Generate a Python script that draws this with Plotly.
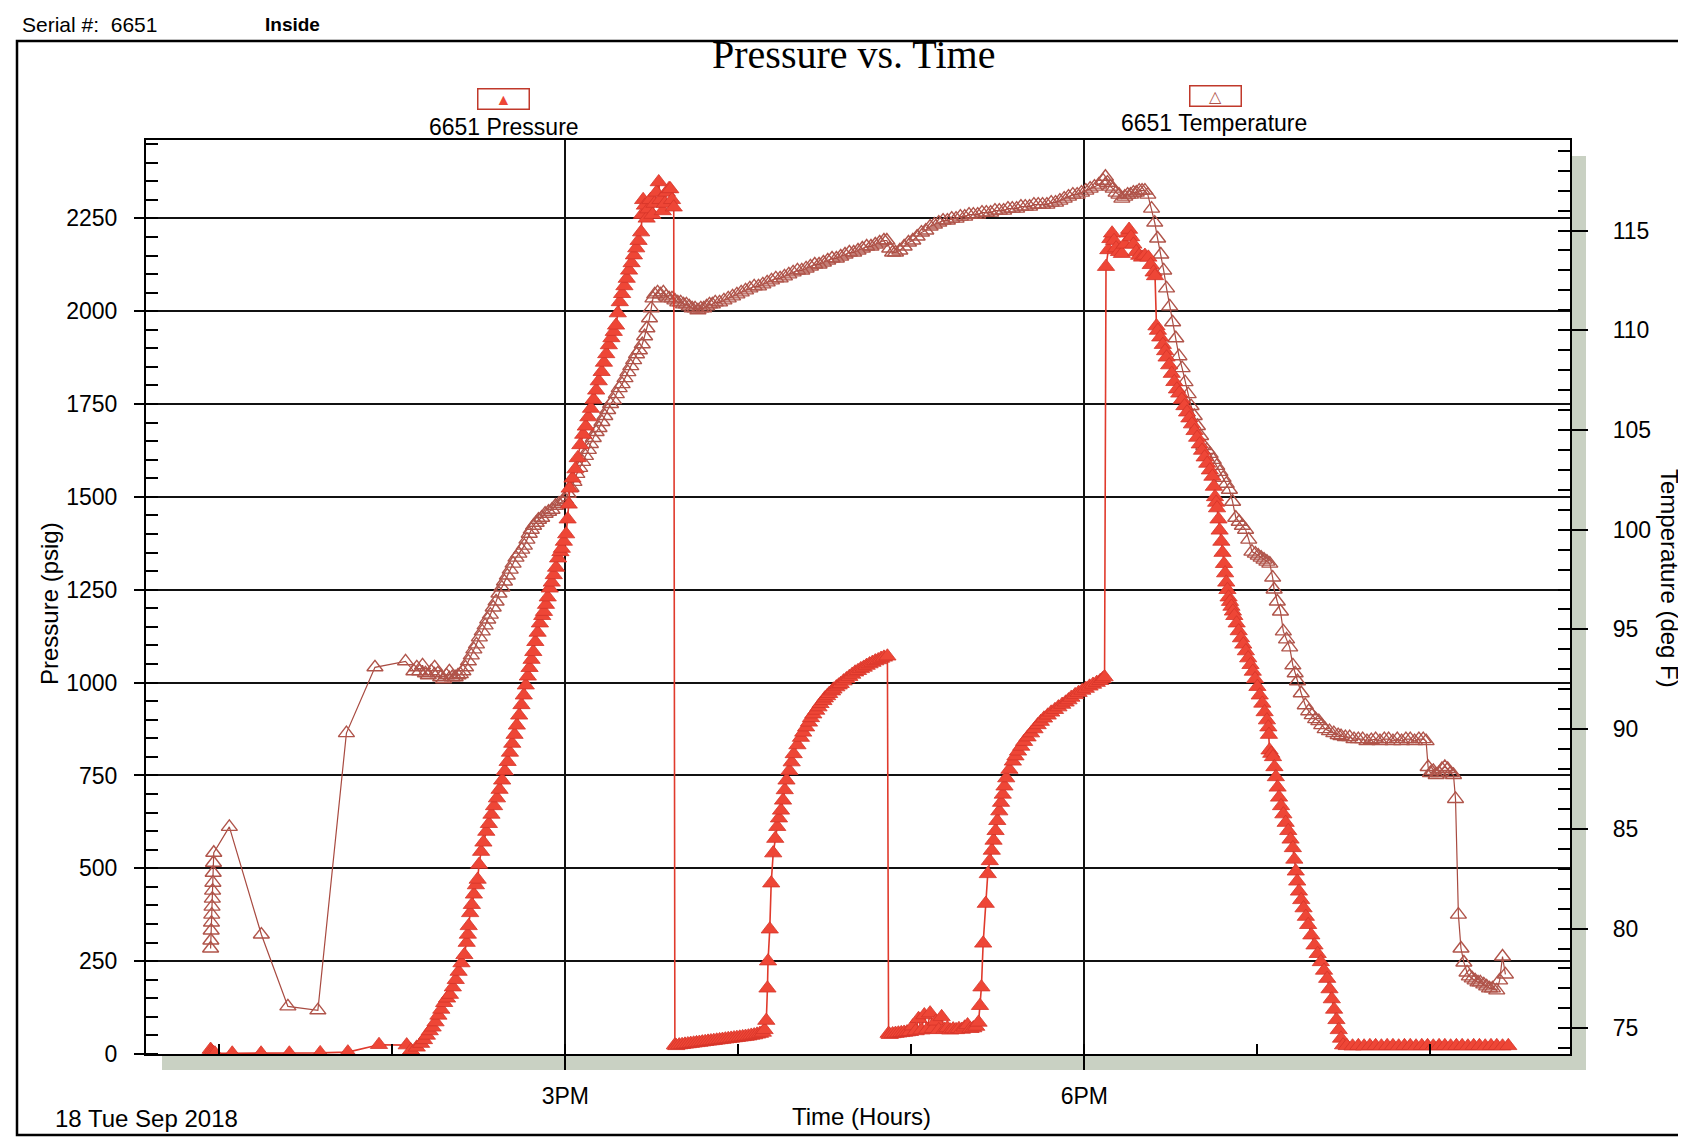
import pandas as pd
import plotly.graph_objects as go

# ---------------- data (minutes after 12:00 on 18 Sep 2018, value) ----------------
pressure_readings = [
    (57.0, 12), (57.3, 8), (57.6, 5), (58.0, 3), (58.5, 2), (64.5, 2), (74.5, 2), (84.3, 2),
    (95.0, 3), (104.6, 5), (115.4, 25), (125.0, 24), (126.5, 10), (128.5, 18),
    (130, 28), (131, 38), (132, 50), (133, 62), (134, 72), (135, 86), (136, 104), (137, 120),
    (138, 138), (139, 150), (140, 160), (141, 180), (142, 200), (143, 222), (144, 245), (145, 267),
    (145.8, 300), (146.2, 322), (146.5, 345), (147, 380), (147.6, 402), (148.3, 430), (149, 455),
    (149.6, 470), (150.1, 510), (150.8, 545), (151.6, 570), (152.6, 599), (153.5, 620),
    (154.4, 645), (155.3, 668), (156.3, 689), (157.2, 712), (158.1, 737), (159, 762), (160, 787),
    (160.8, 812), (161.6, 836), (162.4, 860), (163.2, 885), (164, 912), (164.8, 940), (165.6, 966),
    (166.3, 993), (167, 1017), (167.6, 1040), (168.3, 1062), (168.9, 1083), (169.6, 1110),
    (170.4, 1135), (171.2, 1160), (172, 1180), (172.6, 1191), (173.3, 1210), (173.9, 1230),
    (174.6, 1254), (175.3, 1270), (176, 1290), (176.8, 1310), (177.5, 1335), (178.3, 1352),
    (178.8, 1361), (179.5, 1380), (180.3, 1400), (180.8, 1440), (181.2, 1480), (181.5, 1523),
    (182.5, 1550), (183.5, 1575), (184.3, 1605), (185.2, 1640), (186.2, 1668), (187.1, 1690),
    (188, 1715), (188.9, 1738), (189.8, 1762), (190.7, 1787), (191.6, 1812), (192.6, 1837),
    (193.4, 1862), (194.2, 1885), (195.1, 1909), (196, 1928), (196.8, 1945), (197.6, 1962),
    (198.2, 1995), (198.9, 2025), (199.7, 2047), (200.5, 2068), (201.3, 2088), (202.1, 2110),
    (203, 2130), (203.8, 2151), (204.6, 2170), (205.4, 2190), (206.3, 2213), (206.6, 2260),
    (207, 2300), (207.6, 2285), (208.2, 2250), (208.8, 2275), (209.5, 2300), (210.2, 2260),
    (210.9, 2290), (211.6, 2320), (212.4, 2348), (213, 2300), (213.8, 2270), (214.5, 2290),
    (215.2, 2320), (216, 2330), (216.4, 2329), (217, 2300), (217.6, 2280),
    (218, 24), (218.5, 22), (219.5, 24), (220.5, 25), (221.5, 26), (222.5, 27), (223.5, 28),
    (224.5, 29), (225.5, 30), (226.5, 31), (227.5, 32), (228.5, 33), (229.5, 34), (230.5, 35),
    (231.5, 36), (232.5, 37), (233.5, 38), (234.5, 39), (235.5, 40), (236.5, 41), (237.5, 42),
    (238.5, 43), (239.5, 44), (240.5, 45), (241.5, 46), (242.5, 47), (243.5, 48), (244.5, 50),
    (245.5, 51), (246.5, 53), (247.5, 55), (248.5, 58), (249.1, 65), (249.7, 90), (250.1, 177),
    (250.3, 250),
    (250.9, 336), (251.4, 460), (252.1, 541), (252.8, 580), (253.5, 612), (254.1, 635),
    (254.8, 656), (255.5, 683), (256.1, 711), (256.7, 737), (257.7, 763), (258.5, 786),
    (259.2, 808), (260.5, 832), (261.7, 852), (262.5, 866), (263.5, 880), (264.5, 893),
    (265.2, 905), (266, 915), (267, 925), (267.8, 934), (268.5, 943), (269.5, 951), (270, 958),
    (270.8, 964), (271.5, 970), (272.5, 977), (273, 982), (274, 988), (274.8, 993), (275.5, 997),
    (276.5, 1004), (277.5, 1010), (278.5, 1016), (279.5, 1022), (280.5, 1028), (281.5, 1032),
    (282.5, 1037), (283.5, 1041), (284.5, 1046), (285.5, 1050), (286.5, 1054), (287.5, 1058),
    (288.5, 1061), (289.5, 1065), (290.5, 1068), (291.7, 1071),
    (292.1, 55), (292.5, 52), (293.5, 54), (294.5, 55), (295.5, 56), (296.5, 57), (297.5, 58),
    (298.5, 59), (299.5, 60), (300.5, 75), (301.5, 62), (302.5, 95), (303.5, 64), (304.5, 105),
    (305.5, 66), (306.5, 110), (307.5, 68), (308.5, 88), (309.5, 65), (310.5, 100), (311.5, 66),
    (312.5, 70), (313.5, 64), (314.5, 67), (315.5, 65), (316.5, 68), (317.5, 66), (318.5, 72),
    (319.5, 78), (320.5, 68), (321.5, 70), (322.5, 74), (323.3, 85), (323.8, 130), (324.3, 180),
    (324.9, 298), (325.8, 405), (326.5, 485), (327.2, 520), (327.9, 548), (328.5, 575),
    (329.2, 601), (329.8, 628), (330.5, 654), (331.1, 677), (331.7, 699), (332.3, 721),
    (332.9, 743), (334, 766), (335.2, 788), (336.1, 802), (337, 815), (338.1, 828), (339.1, 841),
    (340.3, 853), (341.5, 864), (342.7, 875), (343.8, 886), (344.9, 895), (346, 904), (347.3, 912),
    (348.5, 920), (349.8, 927), (351, 934), (352.3, 941), (353.5, 947), (354.5, 953), (355.5, 960),
    (356.8, 967), (358, 973), (359.3, 979), (360.5, 984), (361.8, 990), (363, 995), (364.3, 1000),
    (365.5, 1005), (366.3, 1010), (367, 1015),
    (367.5, 2120), (368.3, 2165), (369, 2195), (369.6, 2210), (370.3, 2190), (371, 2170),
    (372, 2160), (373, 2155), (374, 2180), (375, 2210), (375.5, 2220), (376.2, 2200), (377, 2180),
    (378, 2160), (379, 2150), (380, 2145), (381, 2150), (382.2, 2145), (383, 2125), (384, 2105),
    (384.5, 2095),
    (385, 1960), (385.5, 1948), (386.3, 1930), (387.2, 1910), (388, 1893), (388.5, 1876),
    (389.4, 1855), (390.3, 1832), (391.2, 1810), (392.1, 1790), (392.9, 1779), (393.8, 1762),
    (394.7, 1745), (395.6, 1728), (396.4, 1712), (397.3, 1696), (398.2, 1678), (399.1, 1660),
    (400, 1642), (400.8, 1625), (401.7, 1607), (402.6, 1590), (403.5, 1572), (404.4, 1555),
    (404.9, 1528), (405.3, 1500), (405.7, 1485), (406, 1470), (406.5, 1440), (406.9, 1410),
    (407.5, 1380), (407.9, 1350), (408.4, 1320), (408.8, 1295), (409.2, 1270), (409.6, 1250),
    (410, 1230), (410.5, 1218), (411, 1205), (411.5, 1192), (412, 1180), (412.8, 1160),
    (413.5, 1139), (414.3, 1120), (415.1, 1103), (416, 1085), (416.8, 1066), (417.6, 1048),
    (418.4, 1030), (419.2, 1010), (420, 989), (420.8, 966), (421.7, 944), (422.5, 921),
    (423.3, 899), (423.8, 880), (424, 860), (424.2, 818), (424.8, 809), (425.4, 800), (425.9, 773),
    (426.4, 746), (427, 718), (427.5, 691), (428.2, 668), (429, 646), (429.8, 623), (430.7, 601),
    (431.5, 578), (432.3, 555), (432.8, 524), (433.3, 492), (433.8, 465), (434.4, 438),
    (435.2, 415), (436, 393), (436.8, 370), (437.6, 348), (438.7, 320), (439.8, 293), (440.9, 270),
    (442, 248), (443.1, 225), (444.2, 203), (445, 175), (445.8, 148), (446.6, 120), (447.4, 92),
    (448.2, 65), (449, 42), (449.7, 24),
    (451, 22), (453, 21), (455, 22), (457, 21), (459, 22), (461, 22), (463, 21), (465, 22),
    (467, 22), (469, 21), (471, 22), (473, 22), (475, 21), (477, 22), (479, 22), (481, 21),
    (483, 22), (485, 22), (487, 21), (489, 22), (491, 22), (493, 21), (495, 22), (497, 22),
    (499, 21), (501, 22), (503, 22), (505, 21), (507, 22),
]

temperature_readings = [
    (57.0, 79.0), (57.1, 79.4), (57.2, 79.9), (57.3, 80.3), (57.4, 80.7), (57.5, 81.1),
    (57.6, 81.5), (57.7, 81.9), (57.8, 82.3), (57.9, 82.8), (58.0, 83.3), (58.1, 83.8),
    (63.5, 85.1), (74.6, 79.7), (83.8, 76.1), (94.2, 75.9), (104.1, 89.8), (114.0, 93.1),
    (124.6, 93.4),
    (127.5, 92.9), (128.5, 93.1), (129.5, 92.9), (130.5, 93.2), (131.5, 92.8), (132.5, 92.7),
    (133.5, 92.9), (134.7, 93.1), (135.8, 92.8), (136.8, 92.6), (137.8, 92.5), (138.8, 92.7),
    (139.8, 92.9), (140.8, 92.6), (141.8, 92.6), (142.8, 92.7),
    (143.6, 92.76), (144.5, 92.9), (145.4, 93.1), (146.4, 93.4), (147.4, 93.7), (148.3, 94.0),
    (149.2, 94.25), (150.2, 94.6), (151.2, 94.9), (152.2, 95.2), (153.1, 95.5), (154.0, 95.74),
    (155.0, 96.1), (156.0, 96.4), (157.0, 96.8), (158.0, 97.1), (158.9, 97.4), (159.9, 97.7),
    (160.9, 98.0), (161.9, 98.3), (162.9, 98.6), (163.9, 98.8), (164.9, 99.0), (165.8, 99.2),
    (166.7, 99.5), (167.5, 99.8), (168.2, 100.0), (169.0, 100.2), (169.9, 100.35), (170.7, 100.5),
    (171.8, 100.6), (173.0, 100.8), (174.2, 100.9), (175.4, 101.0), (176.6, 101.2), (177.8, 101.3),
    (179.0, 101.4), (180.0, 101.5), (181.0, 101.8), (182.0, 102.1), (183.0, 102.4), (184.0, 102.8),
    (185.0, 103.1), (186.0, 103.4), (187.0, 103.7), (188.0, 104.0), (188.7, 104.3), (189.7, 104.6),
    (190.7, 104.9), (191.7, 105.1), (192.7, 105.4), (193.7, 105.7), (194.7, 106.0), (195.7, 106.3),
    (196.7, 106.5), (197.7, 106.8), (198.7, 107.1), (199.7, 107.3), (200.7, 107.6), (201.7, 107.9),
    (202.7, 108.2), (203.7, 108.5), (204.7, 108.8), (205.7, 109.0), (206.7, 109.3), (207.5, 109.7),
    (208.3, 110.1), (209.2, 110.6), (209.8, 111.1), (210.4, 111.6), (211.0, 111.8),
    (212, 111.9), (213, 111.8), (214, 111.9), (215, 111.7), (216, 111.6), (217, 111.6), (218, 111.5),
    (219, 111.4), (220, 111.4), (221, 111.3), (222, 111.3), (223, 111.2), (224, 111.1), (225, 111.1),
    (226, 111.0), (227, 111.1), (228, 111.1), (229, 111.2), (230, 111.3), (231, 111.3),
    (232, 111.4), (233.5, 111.4), (235, 111.5), (236.5, 111.6), (238, 111.7), (239.5, 111.8),
    (241, 111.9), (242.5, 112.0), (244, 112.1), (245.5, 112.2), (247, 112.2), (248.5, 112.3),
    (250, 112.4), (251.5, 112.5), (253, 112.6), (254.5, 112.6), (256, 112.7), (257.5, 112.8),
    (259, 112.9), (260.5, 113.0), (262, 113.0), (263.5, 113.1), (265, 113.2), (266.5, 113.3),
    (268, 113.3), (269.5, 113.4), (271, 113.5), (272.5, 113.6), (274, 113.6), (275.5, 113.7),
    (277, 113.8), (278.5, 113.9), (280, 113.9), (281.5, 114.0), (283, 114.1), (284.5, 114.2),
    (286, 114.2), (287.5, 114.3), (289, 114.4), (290.5, 114.5), (291.5, 114.5),
    (292.5, 114.1), (293.5, 113.9), (294.5, 113.9), (296, 114.0), (297.5, 114.2), (299, 114.4),
    (300.5, 114.5), (302, 114.7), (303.5, 114.9), (305, 115.0), (306.5, 115.2), (308, 115.3),
    (309.5, 115.4), (311, 115.5), (312.5, 115.5), (314, 115.6), (315.5, 115.6), (317, 115.7),
    (318.5, 115.7), (320, 115.8), (321.5, 115.8), (323, 115.8), (324.5, 115.9), (326, 115.9),
    (327.5, 115.9), (329, 116.0), (330.5, 116.0), (332, 116.0), (333.5, 116.1), (335, 116.1),
    (336.5, 116.1), (338, 116.2), (339.5, 116.2), (341, 116.2), (342.5, 116.3), (344, 116.3),
    (345.5, 116.3), (347, 116.3), (348.5, 116.4), (350, 116.4), (351.5, 116.5), (353, 116.6),
    (354.5, 116.7), (356, 116.8), (357.5, 116.8), (359, 116.9), (360.5, 117.0), (362, 117.1),
    (363.5, 117.2), (365, 117.3), (366.5, 117.5), (367.3, 117.7),
    (368, 117.4), (369, 117.2), (370, 117.1), (371, 116.9), (372, 116.8), (373, 116.6), (374, 116.7),
    (375, 116.8), (376, 116.8), (377, 116.9), (378, 116.9), (379, 117.0), (380, 117.0), (381, 117.0),
    (382, 116.8), (383.3, 116.1), (384.4, 115.4), (385.4, 114.6), (386.5, 113.8), (387.5, 113.0),
    (388.5, 112.1), (389.6, 111.2), (390.6, 110.4), (391.7, 109.6), (392.8, 108.7), (393.9, 108.1),
    (394.9, 107.4), (396, 106.8), (397, 106.2), (398.1, 105.7), (399.2, 105.2), (400.3, 104.7),
    (401.4, 104.2), (402.5, 104.0), (403.6, 103.8), (404.7, 103.5), (405.9, 103.2), (407, 102.9),
    (408.1, 102.6), (409.2, 102.3), (410.3, 102.0), (411.4, 101.4), (412.5, 100.6), (413.7, 100.4),
    (414.8, 100.2), (415.9, 100.0), (417, 99.5), (418.1, 98.9), (419.3, 98.8), (420.3, 98.7),
    (421.3, 98.6), (422.3, 98.5), (423.3, 98.4), (424.3, 98.3), (425.3, 97.6), (425.8, 97.0),
    (426.9, 96.4), (428, 95.9), (429, 94.9), (430.1, 94.5), (431.2, 94.1), (432.3, 93.2),
    (433.1, 92.8), (433.9, 92.4), (435.2, 91.8), (436.6, 91.2), (437.8, 90.9), (439, 90.7),
    (440.2, 90.5), (441.3, 90.4), (442.3, 90.2), (443.5, 90.0), (445, 89.9), (446.5, 89.8),
    (448, 89.7), (449, 89.65),
    (450.5, 89.6), (452, 89.6), (453.5, 89.5), (455, 89.5), (456.5, 89.5), (458, 89.4),
    (459.5, 89.45), (461, 89.5), (462.5, 89.4), (464, 89.5), (465.5, 89.5), (467, 89.4),
    (468.5, 89.5), (470, 89.4), (471.5, 89.5), (473, 89.5), (474.5, 89.4), (476, 89.5),
    (477.5, 89.5), (478.5, 89.4),
    (479.2, 88.1), (480, 87.8), (481, 87.9), (482, 87.7), (483, 87.8), (484, 88.0), (485, 88.1),
    (486, 88.0), (487, 87.8), (488, 87.7), (488.7, 86.5), (489.7, 80.7), (490.6, 79.0),
    (491.6, 78.3), (492.7, 77.8), (493.5, 77.6), (494.5, 77.5), (495.5, 77.4), (496.5, 77.3),
    (497.3, 77.3), (498.5, 77.2), (499.5, 77.1), (500.5, 77.0), (501.5, 77.0), (503, 76.9),
    (504, 77.4), (505, 78.6), (506, 77.7),
]

x_tick_labels = ["3PM", "6PM"]
x_tick_times = ["2018-09-18 15:00", "2018-09-18 18:00"]
x_minor_times = ["2018-09-18 13:00", "2018-09-18 14:00", "2018-09-18 15:00", "2018-09-18 16:00",
                 "2018-09-18 17:00", "2018-09-18 18:00", "2018-09-18 19:00", "2018-09-18 20:00"]
pressure_ticks = [0, 250, 500, 750, 1000, 1250, 1500, 1750, 2000, 2250]
temperature_ticks = [75, 80, 85, 90, 95, 100, 105, 110, 115]

BASE = pd.Timestamp("2018-09-18 12:00:00")


def to_times(minutes):
    return [BASE + pd.Timedelta(minutes=float(m)) for m in minutes]


p_min = [r[0] for r in pressure_readings]
p_val = [r[1] for r in pressure_readings]
t_min = [r[0] for r in temperature_readings]
t_val = [r[1] for r in temperature_readings]

# ---------------- layout geometry (pixels) ----------------
W, H = 1686, 1145
PL, PR, PT, PB = 138, 1562, 132, 1046


def px_x(px):
    return (px - PL) / (PR - PL)


def px_y(py):
    return (PB - py) / (PB - PT)


FONT = "Liberation Sans, Arial, sans-serif"
P_RED = "#EE4636"
T_BROWN = "#B0544A"

fig = go.Figure()
fig.add_trace(go.Scatter(
    x=to_times(t_min), y=t_val, yaxis="y", mode="lines+markers", name="6651 Temperature",
    line=dict(color="#A84A40", width=1.2),
    marker=dict(symbol="triangle-up-open", size=14, color=T_BROWN, line=dict(width=1.4, color=T_BROWN)),
))
fig.add_trace(go.Scatter(
    x=to_times(p_min), y=p_val, yaxis="y2", mode="lines+markers", name="6651 Pressure",
    line=dict(color="#E03A2C", width=1.6),
    marker=dict(symbol="triangle-up", size=15, color=P_RED, line=dict(width=0.8, color="#D5352A")),
))

annotations = [
    dict(text="Pressure vs. Time", x=px_x(845), y=px_y(46),
         font=dict(family="Liberation Serif, Times New Roman, serif", size=40, color="black")),
    dict(text="▲", x=px_x(496), y=px_y(91), width=50, height=19, borderpad=0,
         bordercolor="#C0392B", borderwidth=1.5, font=dict(size=16, color=P_RED)),
    dict(text="6651 Pressure", x=px_x(496), y=px_y(119), font=dict(size=23, color="black")),
    dict(text="△", x=px_x(1207), y=px_y(88), width=50, height=19, borderpad=0,
         bordercolor="#C0392B", borderwidth=1.5, font=dict(size=16, color=T_BROWN)),
    dict(text="6651 Temperature", x=px_x(1206), y=px_y(115), font=dict(size=23, color="black")),
    dict(text="Pressure (psig)", x=px_x(41), y=px_y(596), textangle=-90,
         font=dict(size=24, color="black")),
    dict(text="Temperature (deg F)", x=px_x(1662), y=px_y(570), textangle=90,
         font=dict(size=24, color="black")),
    dict(text="Time (Hours)", x=px_x(853), y=px_y(1108), font=dict(size=24, color="black")),
    dict(text="18 Tue Sep 2018", x=px_x(45), y=px_y(1110), xanchor="left",
         font=dict(size=24, color="black")),
    dict(text="Serial #:  6651", x=px_x(12), y=px_y(17), xanchor="left",
         font=dict(size=21, color="black")),
    dict(text="<b>Inside</b>", x=px_x(255), y=px_y(17), xanchor="left",
         font=dict(size=19, color="black")),
]
for a in annotations:
    a.update(xref="paper", yref="paper", showarrow=False)
    a.setdefault("xanchor", "center")
    a.setdefault("yanchor", "middle")

shapes = [
    # drop shadow of the plot area
    dict(type="rect", xref="paper", yref="paper", layer="below",
         x0=px_x(PR), x1=px_x(PR + 16), y0=px_y(PB + 16), y1=px_y(PT + 16),
         fillcolor="#C9D1C3", line=dict(width=0)),
    dict(type="rect", xref="paper", yref="paper", layer="below",
         x0=px_x(PL + 16), x1=px_x(PR + 16), y0=px_y(PB + 16), y1=px_y(PB),
         fillcolor="#C9D1C3", line=dict(width=0)),
    # outer frame
    dict(type="rect", xref="paper", yref="paper", layer="below",
         x0=px_x(9), x1=px_x(1680), y0=px_y(1127), y1=px_y(33),
         fillcolor="rgba(0,0,0,0)", line=dict(color="black", width=2.5)),
]

fig.update_layout(
    width=W, height=H,
    margin=dict(l=PL, r=W - PR, t=PT, b=H - PB, pad=0),
    paper_bgcolor="white", plot_bgcolor="white",
    showlegend=False,
    font=dict(family=FONT, color="black"),
    annotations=annotations,
    shapes=shapes,
    xaxis=dict(
        type="date", range=["2018-09-18 12:34:36", "2018-09-18 20:48:24"],
        tickmode="array", tickvals=x_tick_times, ticktext=x_tick_labels,
        ticks="outside", ticklen=14, tickwidth=2, tickcolor="black",
        tickfont=dict(size=23, color="black"), ticklabelstandoff=6,
        showgrid=True, gridcolor="#111111", gridwidth=1.6,
        showline=True, linecolor="black", linewidth=2.2, mirror=True,
        zeroline=False,
        minor=dict(tickmode="array", tickvals=x_minor_times, ticks="inside",
                   ticklen=10, tickwidth=1.6, tickcolor="black", showgrid=False),
    ),
    yaxis=dict(
        side="right", range=[73.71, 119.54],
        tickmode="array", tickvals=temperature_ticks,
        ticktext=[str(v) for v in temperature_ticks],
        ticks="outside", ticklen=16, tickwidth=2, tickcolor="black",
        tickfont=dict(size=23, color="black"), ticklabelstandoff=20,
        showgrid=False, zeroline=False,
        showline=True, linecolor="black", linewidth=2.2,
        minor=dict(tickmode="linear", tick0=75, dtick=1, ticks="inside",
                   ticklen=12, tickwidth=1.6, tickcolor="black", showgrid=False),
    ),
    yaxis2=dict(
        overlaying="y", side="left", range=[0, 2461],
        tickmode="array", tickvals=pressure_ticks,
        ticktext=[str(v) for v in pressure_ticks],
        ticks="outside", ticklen=10, tickwidth=2, tickcolor="black",
        tickfont=dict(size=23, color="black"), ticklabelstandoff=12,
        showgrid=True, gridcolor="#111111", gridwidth=1.6, zeroline=False,
        showline=True, linecolor="black", linewidth=2.2,
        minor=dict(tickmode="linear", tick0=0, dtick=50, ticks="inside",
                   ticklen=12, tickwidth=1.6, tickcolor="black", showgrid=False),
    ),
)

fig.write_html("out.html")
